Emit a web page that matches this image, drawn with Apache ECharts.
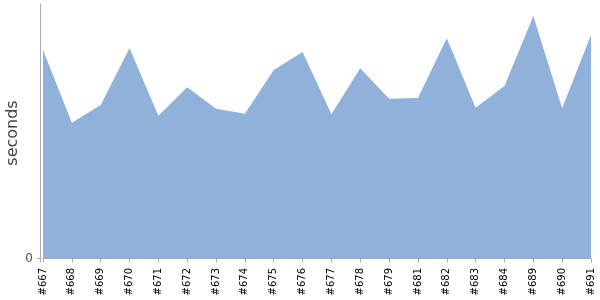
<!DOCTYPE html>
<html><head><meta charset="utf-8">
<script src="https://cdn.jsdelivr.net/npm/echarts@6/dist/echarts.min.js"></script>
<style>html,body{margin:0;padding:0;background:#fff}#c{width:600px;height:300px}</style>
</head><body><div id="c"></div>
<script>
const categories = ['#667','#668','#669','#670','#671','#672','#673','#674','#675','#676','#677','#678','#679','#681','#682','#683','#684','#689','#690','#691'];
const seconds = [208.5,135.8,153.5,210.2,142.8,171.2,149.8,144.8,188.5,206.5,144.2,190.2,159.8,160.5,220.2,150.8,172.5,242.5,150.2,223.5];
const yTickLabels = [0];

const chart = echarts.init(document.getElementById('c'), null, {renderer:'canvas'});
chart.setOption({
  animation:false,
  grid:{left:43,right:9,top:4,bottom:38,containLabel:false,outerBoundsMode:'none'},
  xAxis:{
    type:'category', data:categories, boundaryGap:false,
    axisLine:{lineStyle:{color:'#aaaaaa'}},
    axisTick:{alignWithLabel:true,length:4,lineStyle:{color:'#aaaaaa'}},
    axisLabel:{rotate:90,fontSize:10,color:'#000',fontFamily:'DejaVu Sans',margin:6,interval:0}
  },
  yAxis:{
    type:'value', min:-3.5, max:254.5, offset:3,
    name:'seconds', nameLocation:'middle', nameGap:19, nameMoveOverlap:false,
    nameTextStyle:{fontSize:16,color:'#444',fontFamily:'DejaVu Sans'},
    splitLine:{show:false},
    axisLine:{show:true,lineStyle:{color:'#aaaaaa'}},
    axisTick:{show:true,length:3,customValues:yTickLabels,lineStyle:{color:'#aaaaaa'}},
    axisLabel:{customValues:yTickLabels,fontSize:12,color:'#555',fontFamily:'DejaVu Sans',margin:7}
  },
  series:[{
    type:'line', data:seconds, symbol:'none',
    lineStyle:{width:0,color:'#8fb1da'},
    areaStyle:{color:'#8fb1da',opacity:1,origin:0}
  }]
});
</script></body></html>
